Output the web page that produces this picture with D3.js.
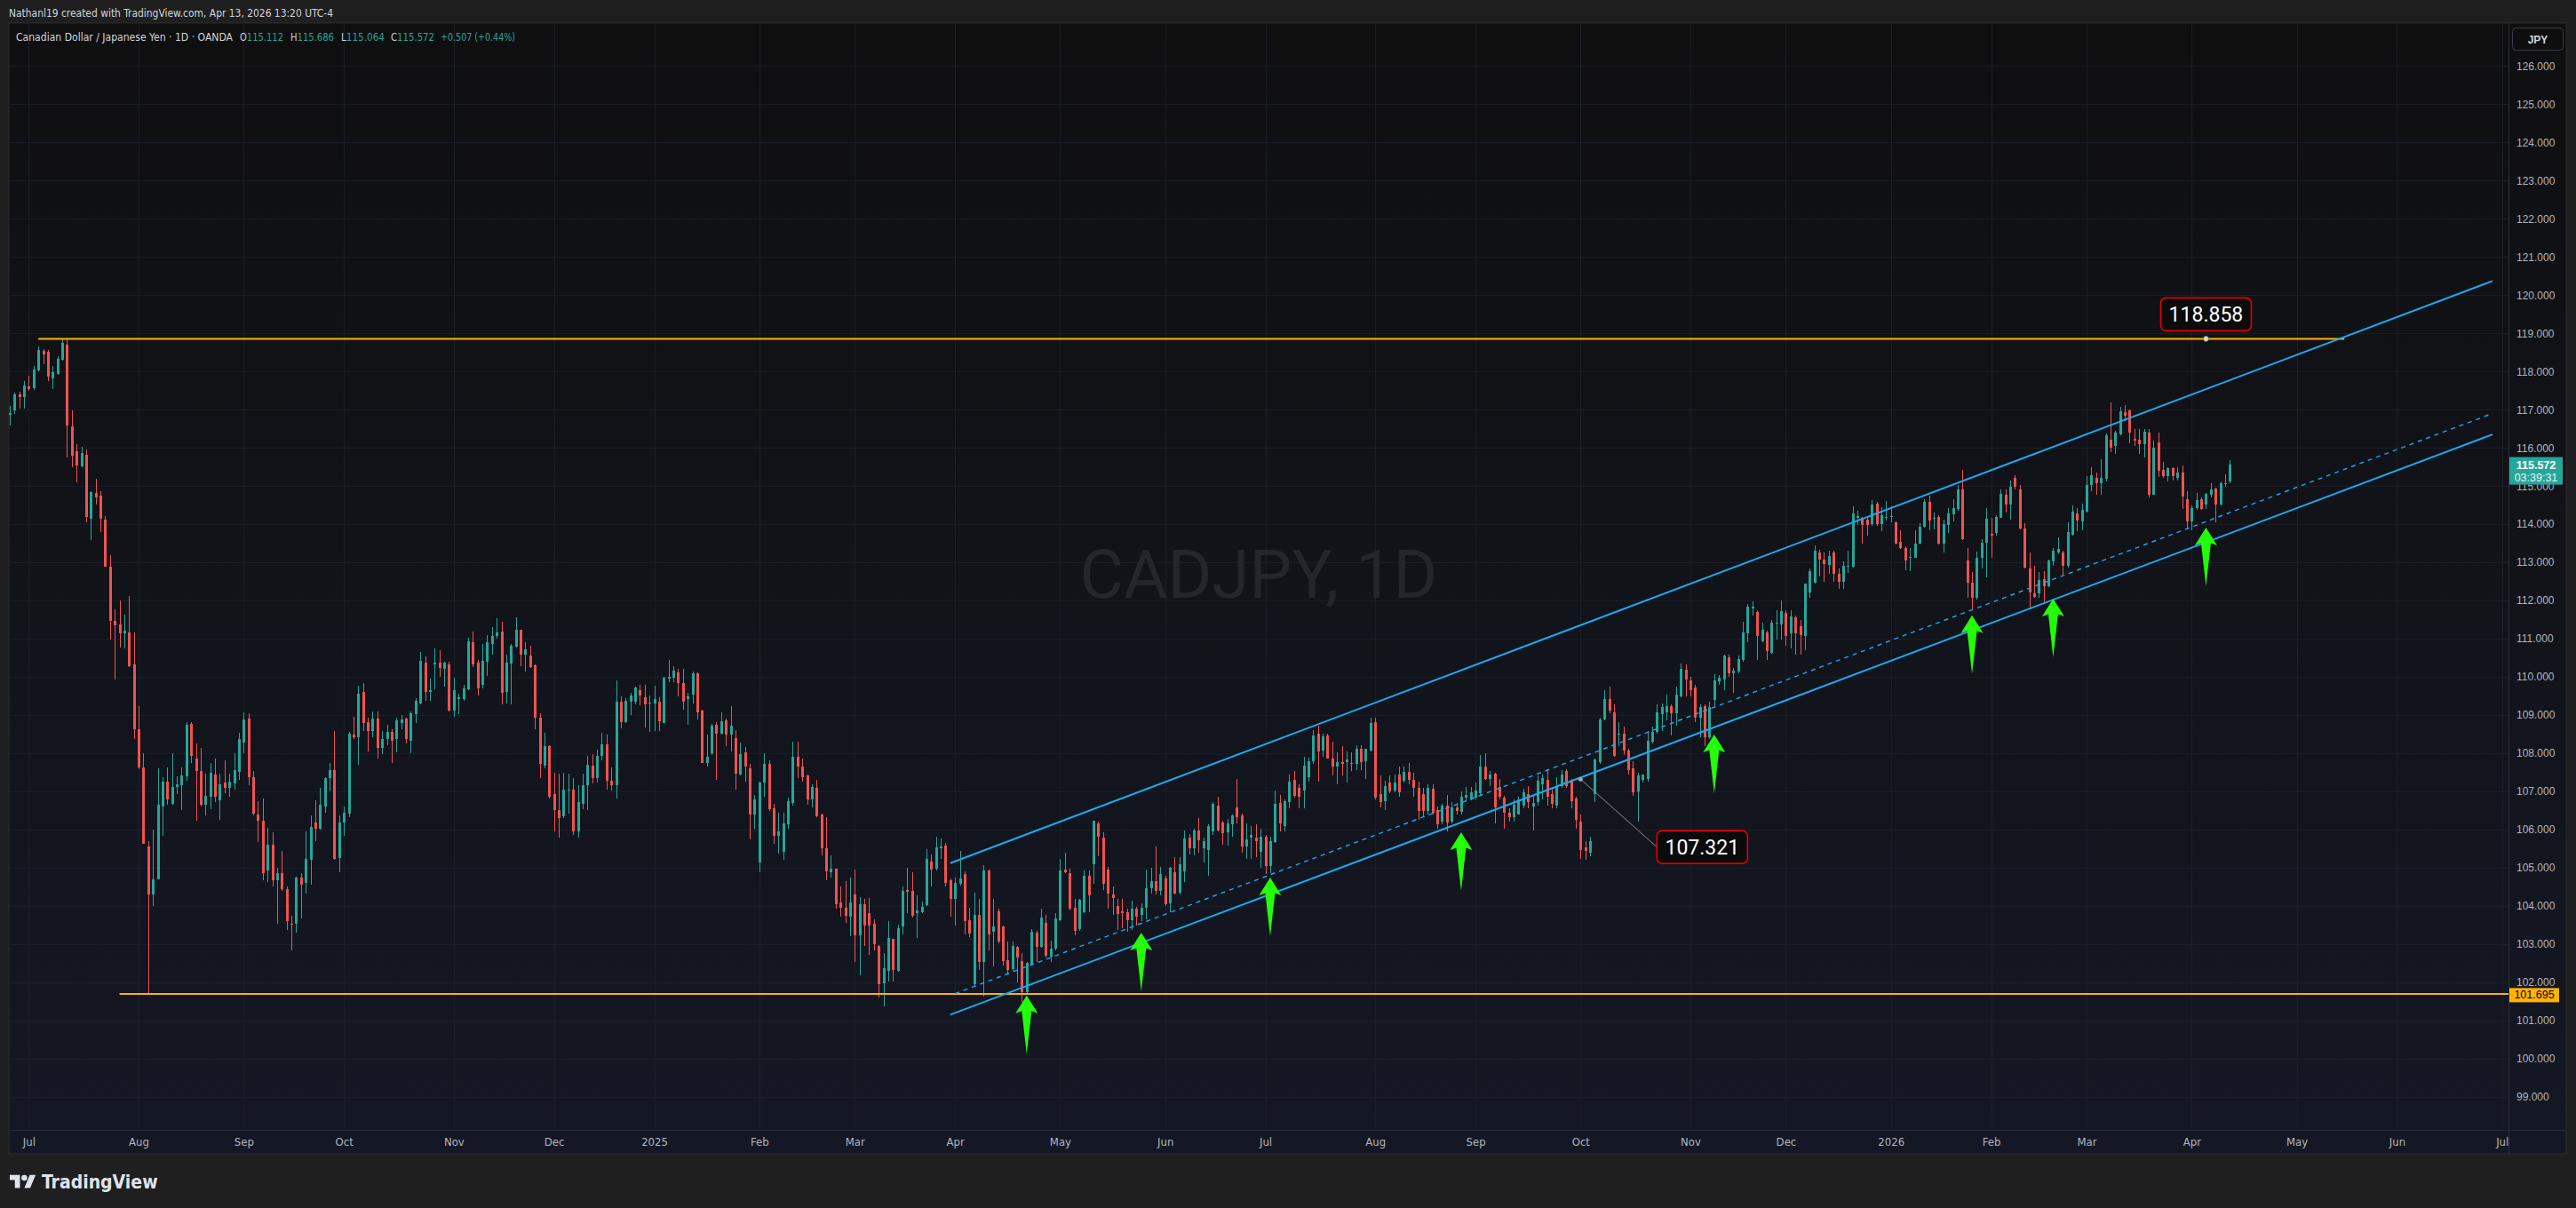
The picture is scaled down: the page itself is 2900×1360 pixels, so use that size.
<!DOCTYPE html>
<html><head><meta charset="utf-8">
<script src="https://cdn.jsdelivr.net/npm/d3@7"></script>
<style>
html,body{margin:0;padding:0;background:#1f1f1f;}
svg{display:block;}
</style></head>
<body>
<svg id="chart" width="2900" height="1360"></svg>
<script>
// ---------------- DATA ----------------
const firstDay = "2024-06-25";
const lastAxisDay = "2026-07-10";
const holidays = ["2024-12-25","2025-01-01","2025-12-25","2026-01-01"];

const open = [
116.87,116.98,117.40,117.33,117.61,117.56,118.03,118.55,118.52,117.83,
117.93,118.32,118.71,116.57,115.91,115.51,115.81,114.14,114.82,114.75,
114.13,112.89,111.46,111.37,111.13,111.16,110.33,108.63,107.63,105.56,
104.29,104.69,106.60,107.26,106.68,107.12,107.15,107.39,108.77,107.86,
107.54,106.64,106.87,107.45,106.76,107.23,107.09,107.20,107.52,108.29,
108.90,107.38,106.39,106.23,104.93,105.61,104.67,104.86,104.43,103.53,
103.52,104.75,104.59,105.20,106.18,106.01,106.61,107.34,107.55,105.26,
106.18,106.42,108.48,108.41,109.60,108.81,108.59,108.90,108.13,108.36,
108.56,108.36,108.79,108.90,108.33,109.03,109.31,110.37,109.60,110.32,
110.37,110.21,110.33,109.12,109.43,109.43,109.67,110.91,110.37,109.80,
110.39,110.87,111.07,111.19,109.60,110.36,110.80,111.23,110.59,110.56,
110.30,108.93,107.68,108.18,106.94,106.52,106.34,107.02,107.05,105.95,
106.68,107.15,107.67,107.34,107.92,108.23,107.27,107.16,109.36,108.82,
109.36,109.36,109.66,109.46,109.31,109.31,
109.36,108.80,109.95,109.98,110.12,109.83,109.43,109.54,110.09,109.12,
107.74,107.99,108.74,108.51,108.87,108.48,108.39,107.45,108.03,107.60,
106.40,105.14,107.23,107.72,106.56,105.83,105.41,106.13,106.70,107.90,
107.66,107.42,106.79,107.08,106.40,105.52,104.89,104.97,104.09,103.96,
103.72,104.31,103.22,104.04,103.80,103.52,102.95,101.98,102.29,103.13,
102.29,103.47,104.42,104.40,103.80,103.84,104.01,105.17,104.97,105.51,
105.59,104.68,104.19,104.57,104.83,103.62,101.94,103.76,102.52,104.93,
103.31,103.86,103.45,102.58,102.35,102.93,102.55,101.73,102.46,103.30,
102.93,103.55,102.68,102.87,103.62,104.94,104.85,103.96,103.38,103.84,
104.79,105.10,106.17,105.78,104.94,104.29,103.99,103.85,103.83,103.62,
103.93,103.76,103.96,104.47,104.65,104.40,104.71,104.07,104.89,104.34,
104.91,105.79,105.51,105.97,105.51,105.47,105.94,106.63,106.18,105.92,
106.13,106.59,106.36,105.56,105.78,105.79,105.41,105.82,
105.04,105.68,106.70,106.09,106.73,107.29,107.10,107.02,107.37,107.80,
108.50,108.07,108.46,107.87,107.66,107.76,107.76,107.72,107.72,108.11,
107.80,108.07,108.81,106.94,106.75,107.22,107.02,107.43,107.27,107.50,
107.29,107.10,106.94,106.48,107.06,106.52,106.21,106.62,106.21,106.59,
106.46,106.83,106.79,106.83,106.95,107.64,107.33,107.47,107.12,106.83,
106.44,106.32,106.40,106.63,106.94,106.60,106.71,107.18,107.29,106.94,
106.63,107.14,107.53,107.27,106.81,106.21,105.53,105.39,106.94,107.76,
108.88,109.43,109.08,108.48,108.50,108.07,107.60,107.00,107.29,107.33,
108.30,108.56,109.02,109.08,109.23,109.04,109.50,110.19,109.91,109.72,
108.92,109.23,108.42,109.39,109.88,109.93,110.51,110.09,110.13,110.44,
111.15,111.79,
111.71,110.92,111.17,110.63,111.40,111.37,111.68,111.13,111.56,111.33,
111.07,112.20,112.47,113.27,113.07,112.93,113.27,112.70,112.49,112.90,
112.88,114.16,114.16,114.12,114.00,114.53,114.00,114.16,114.19,114.04,
113.54,113.38,113.11,113.13,113.50,113.93,114.59,114.14,114.20,113.48,
113.97,114.25,114.39,114.90,113.06,112.47,112.08,113.11,113.52,113.75,
113.77,114.17,114.78,114.51,115.21,114.92,113.89,112.84,112.18,112.18,
112.57,112.37,113.02,113.27,113.27,112.90,113.73,114.28,114.08,114.33,
115.03,115.21,115.07,115.18,116.21,116.04,116.35,116.94,116.99,116.24,
116.21,116.10,116.41,114.78,116.14,115.42,115.26,115.48,115.21,115.36,
114.66,114.08,114.43,114.66,114.51,114.78,114.93,114.51,115.05,115.112];

const high = [
117.10,117.44,117.47,117.74,117.90,118.14,118.66,118.59,118.57,118.15,
118.41,118.86,118.84,116.98,116.09,116.02,115.95,114.87,115.19,114.87,
114.22,113.19,111.78,112.01,111.62,112.12,111.16,109.24,108.00,105.70,
106.00,107.61,107.37,107.63,108.00,107.40,107.62,108.82,108.81,108.25,
108.15,107.46,107.75,107.87,107.46,107.81,107.46,108.00,108.53,109.08,
109.04,107.54,106.74,106.82,106.05,105.92,105.00,105.43,104.51,103.73,
104.77,104.85,105.95,106.36,106.76,107.08,107.38,107.75,108.58,106.36,
106.61,108.56,108.96,109.77,109.84,108.93,109.10,109.10,108.58,108.75,
108.63,108.92,108.99,108.94,109.10,109.45,110.65,110.53,109.95,110.75,
110.70,110.40,110.40,109.98,109.56,109.80,111.02,111.18,110.44,110.86,
111.09,111.30,111.54,111.45,110.58,110.86,111.57,111.24,110.90,110.81,
110.32,109.04,108.53,108.21,107.48,107.46,107.48,107.46,107.34,107.17,
107.46,107.92,107.98,108.09,108.53,108.48,107.63,109.91,109.48,109.45,
109.59,109.75,109.78,109.80,109.51,109.77,
109.46,110.01,110.45,110.28,110.20,110.20,109.58,110.14,110.12,109.13,
108.49,108.77,108.81,109.08,108.90,109.23,108.61,108.28,108.17,107.72,
106.90,107.25,107.99,107.81,106.67,106.44,106.44,106.83,108.30,108.30,
107.86,107.45,107.19,107.31,106.42,106.32,105.32,104.98,104.52,104.65,
104.73,104.94,104.23,104.19,104.20,103.65,102.97,102.76,103.61,103.14,
103.51,104.50,105.00,104.89,104.27,104.11,105.49,105.35,105.80,105.76,
105.64,104.71,104.73,105.43,104.90,103.96,104.34,104.19,105.07,104.94,
104.19,103.93,103.49,103.07,103.07,102.96,102.77,102.54,103.39,103.34,
103.92,103.76,103.10,103.80,105.24,105.39,104.97,104.19,104.19,104.93,
104.93,106.23,106.21,105.92,105.02,104.50,104.19,104.19,103.93,104.13,
103.97,104.07,104.94,105.00,105.55,105.02,104.79,105.02,105.28,105.28,
105.97,105.87,106.01,106.31,105.79,106.13,106.71,106.87,106.23,106.28,
106.40,107.32,106.42,106.17,106.10,106.13,106.01,105.86,
105.82,107.02,106.91,106.79,107.43,107.53,107.19,107.91,107.89,108.61,
108.71,108.50,108.50,108.30,108.03,108.19,108.05,108.03,108.22,108.22,
108.12,108.92,108.92,107.41,107.27,107.41,107.45,107.66,107.64,107.74,
107.49,107.25,107.10,107.18,107.18,106.60,106.67,106.91,106.71,106.70,
107.01,107.12,107.12,107.22,107.95,107.99,107.53,107.49,107.33,106.88,
106.56,106.79,106.87,107.06,107.14,106.88,107.41,107.45,107.55,107.10,
107.37,107.56,107.58,107.33,106.87,106.40,105.70,105.82,107.87,108.92,
109.66,109.74,109.27,108.81,108.69,108.11,107.80,107.49,107.45,108.57,
108.69,109.27,109.31,109.54,109.27,109.74,110.36,110.32,109.99,109.80,
109.27,109.27,109.35,110.06,110.05,110.59,110.59,110.24,110.55,111.44,
111.91,111.98,
111.75,111.43,111.21,111.48,111.75,112.00,111.75,111.75,111.60,111.48,
112.45,112.84,113.45,113.32,113.27,113.31,113.31,112.84,113.03,113.31,
114.47,114.35,114.20,114.17,114.62,114.59,114.45,114.61,114.48,114.08,
113.85,113.42,113.38,113.85,114.02,114.66,114.74,114.31,114.24,114.12,
114.43,114.66,115.03,115.42,113.37,112.75,113.29,113.60,114.43,114.16,
114.24,114.90,114.90,115.15,115.28,115.03,114.02,113.27,112.92,112.75,
112.78,113.07,113.38,113.65,113.31,114.04,114.49,114.43,114.55,115.26,
115.49,115.36,115.70,116.37,117.18,116.45,117.07,117.11,117.01,116.49,
116.49,116.49,116.49,116.19,116.39,115.63,115.49,115.49,115.49,115.54,
114.87,114.49,114.82,114.70,114.82,115.07,114.95,115.11,115.31,115.686];

const low = [
116.58,116.89,117.03,117.03,117.49,117.52,118.00,118.19,117.76,117.53,
117.91,118.28,115.76,115.50,115.09,115.49,114.04,113.59,114.52,113.79,
112.88,110.97,109.92,110.77,110.74,110.25,108.36,107.57,105.62,101.70,
103.99,104.69,105.83,106.66,106.66,106.94,106.50,107.27,107.75,106.23,
106.61,106.37,106.54,106.73,106.25,106.96,106.87,107.05,107.30,107.99,
107.17,106.38,105.68,104.68,104.62,104.51,103.52,104.39,103.37,102.83,
103.29,103.67,104.33,104.56,105.70,106.00,106.45,107.00,105.20,104.88,
105.84,106.32,108.38,107.69,108.58,108.04,108.41,107.85,107.98,108.20,
107.75,108.02,108.63,108.25,108.01,108.80,109.29,109.37,109.37,109.68,
110.00,109.75,109.10,108.96,109.02,109.37,109.66,110.26,109.52,109.70,
110.02,110.59,111.01,109.27,109.31,109.27,110.76,110.27,110.14,110.24,
108.62,107.34,107.60,106.82,105.95,105.78,106.29,106.42,105.86,105.78,
106.53,106.50,107.20,107.23,107.81,107.04,107.02,106.82,108.65,108.79,
108.99,109.27,109.25,108.67,108.56,108.59,
108.59,108.79,109.85,109.85,109.50,109.14,108.75,109.31,108.88,107.74,
107.64,107.95,107.31,108.49,108.18,108.05,107.04,107.41,107.25,105.74,
106.01,104.89,106.85,106.48,105.62,105.38,105.20,106.01,106.63,107.35,
107.25,106.65,106.59,106.32,105.32,104.67,104.73,103.93,103.72,103.55,
103.20,102.54,102.17,102.96,102.72,102.83,101.61,101.36,102.02,102.02,
102.28,103.26,103.80,103.70,103.16,103.80,104.00,104.52,104.93,105.24,
104.50,103.72,103.49,104.54,103.26,103.18,101.88,102.33,101.63,102.83,
102.41,103.03,102.44,102.21,102.29,101.99,101.48,101.71,102.44,102.52,
102.91,102.64,102.52,102.83,103.61,104.85,103.88,103.24,103.34,103.80,
103.84,104.58,105.31,104.42,103.93,103.76,103.36,103.41,103.31,103.37,
103.49,103.61,103.65,104.32,104.31,104.27,103.99,103.84,104.31,104.29,
104.62,105.35,105.32,105.39,105.14,104.79,105.86,105.95,105.61,105.59,
105.82,106.17,105.39,105.24,105.24,105.28,105.00,104.83,
104.85,105.66,105.94,105.94,106.56,106.83,106.56,106.56,107.25,107.72,
107.25,107.91,107.87,107.41,107.18,107.41,107.22,107.53,107.56,107.56,
107.33,108.05,106.79,106.57,106.52,106.95,106.98,106.87,107.22,107.18,
106.87,106.25,106.32,106.40,106.40,106.01,106.13,105.94,106.17,106.40,
106.40,106.71,106.77,106.79,106.91,107.29,107.14,106.17,106.79,106.01,
106.21,106.21,106.39,106.56,106.56,105.98,106.63,106.79,106.63,106.56,
106.56,107.10,107.10,106.56,106.01,105.24,105.20,105.31,106.73,107.72,
108.85,109.04,107.91,108.18,107.95,107.45,106.88,106.21,107.22,107.25,
108.26,108.50,108.57,108.85,108.46,108.73,109.46,109.49,109.49,108.81,
108.42,108.19,108.36,109.21,109.78,109.66,110.01,109.58,110.09,110.40,
110.90,111.60,
110.44,110.90,110.44,110.61,110.98,110.98,110.82,110.75,110.59,110.59,
110.71,112.06,112.45,112.62,112.49,112.69,112.49,112.30,112.30,112.72,
112.86,113.97,113.48,113.71,113.96,113.96,113.81,114.10,114.04,113.46,
113.34,112.80,112.76,113.11,113.46,113.91,113.85,113.86,113.46,113.27,
113.77,114.08,114.35,113.58,112.06,111.75,112.03,112.84,112.61,113.11,
113.69,114.16,114.31,114.12,114.92,113.86,112.84,111.77,112.06,112.06,
111.91,112.36,112.92,113.21,112.67,112.86,113.71,113.81,113.83,114.31,
114.86,114.78,114.78,115.13,115.88,115.83,116.32,116.70,116.11,116.06,
115.83,115.75,114.70,114.76,115.23,115.21,115.13,115.15,115.15,114.39,
113.86,113.85,114.38,114.38,114.41,114.70,114.04,114.49,114.97,115.064];

const close = [
116.91,117.40,117.34,117.63,117.54,118.06,118.57,118.45,117.86,117.98,
118.34,118.74,116.58,115.80,115.54,115.86,114.18,114.84,114.71,114.15,
112.89,111.46,111.34,111.13,111.21,110.28,108.62,107.63,105.62,104.29,
104.70,106.64,107.26,106.80,107.12,107.18,107.42,108.75,107.92,107.54,
106.64,106.88,107.49,106.87,107.19,107.09,107.25,107.55,108.36,108.88,
107.38,106.42,106.24,104.85,105.61,104.67,104.86,104.43,103.61,103.50,
104.74,104.56,105.22,106.06,106.02,106.65,107.35,107.55,105.24,106.18,
106.43,108.50,108.41,109.56,108.78,108.59,108.90,108.15,108.37,108.56,
108.33,108.85,108.89,108.36,109.05,109.38,110.42,109.60,109.66,110.37,
110.24,110.37,109.12,109.66,109.46,109.70,110.94,110.33,109.70,110.43,
110.91,111.08,111.16,109.58,110.37,110.81,111.23,110.59,110.73,110.25,
108.94,107.71,108.18,106.86,106.50,106.30,107.05,107.05,105.95,106.71,
107.17,107.70,107.34,107.94,108.23,107.27,107.16,109.36,108.82,109.38,
109.52,109.73,109.52,109.29,109.33,109.41,
108.84,109.98,109.99,110.16,109.83,109.36,109.50,110.09,109.08,107.74,
107.90,108.73,108.51,108.84,108.49,108.73,107.46,107.97,107.64,106.40,
106.80,107.23,107.73,106.53,105.83,105.94,106.17,106.75,107.90,107.64,
107.37,106.79,107.11,106.34,105.51,104.90,104.97,104.05,103.96,103.75,
104.09,103.22,104.04,103.49,103.49,102.99,101.94,102.37,103.16,102.33,
103.41,104.40,104.38,103.75,103.88,103.97,105.24,104.94,105.53,105.56,
104.59,104.19,104.60,104.71,103.59,103.27,103.76,102.52,104.93,103.26,
103.47,103.07,102.56,102.33,102.95,102.64,101.75,102.50,103.31,102.93,
103.69,102.69,102.89,103.67,104.93,104.89,103.92,103.34,104.15,104.79,
104.27,106.22,105.80,104.58,104.32,104.21,103.78,103.80,103.62,103.93,
103.72,103.96,104.47,104.65,104.40,104.83,104.04,105.00,104.32,105.10,
105.76,105.51,105.97,105.72,105.70,106.09,106.67,105.97,105.90,106.15,
106.36,106.32,105.56,105.74,105.86,105.69,105.82,105.04,
105.70,106.67,106.16,106.75,107.25,106.88,106.87,107.68,107.80,108.46,
108.05,108.43,107.87,107.66,107.76,107.72,107.84,107.74,108.12,107.76,
108.11,108.79,106.83,106.73,107.14,107.01,107.23,106.98,107.50,107.29,
107.10,106.48,106.48,107.10,106.44,106.13,106.63,106.18,106.57,106.49,
106.87,106.91,106.98,107.02,107.64,107.33,107.45,106.57,106.87,106.44,
106.32,106.65,106.79,106.98,106.73,106.70,107.27,107.35,106.87,106.67,
107.14,107.43,107.14,106.75,106.25,105.47,105.43,105.70,107.84,108.88,
109.43,109.12,107.94,108.51,108.07,107.56,106.98,107.41,107.43,108.33,
108.56,109.08,109.21,109.23,109.04,109.54,110.20,109.93,109.66,108.92,
109.21,108.42,109.21,109.91,109.97,110.55,110.09,110.16,110.47,111.17,
111.85,111.83,
111.06,111.23,110.67,111.41,111.42,111.72,111.06,111.58,111.13,111.09,
112.44,112.78,113.31,113.07,112.96,113.17,112.70,112.49,112.92,112.92,
114.28,114.21,113.99,113.99,114.51,114.00,114.24,114.18,114.21,113.50,
113.38,113.06,113.15,113.50,113.94,114.59,114.10,114.17,113.50,114.00,
114.28,114.43,114.90,113.60,112.47,112.08,113.11,113.52,114.14,113.71,
114.20,114.79,114.51,114.97,114.97,113.89,112.86,112.20,112.10,112.53,
112.37,113.06,113.31,113.34,112.90,113.79,114.33,114.10,114.38,115.03,
115.28,115.07,115.21,116.33,116.01,116.41,116.95,116.84,116.41,116.19,
116.10,116.42,114.78,116.01,115.40,115.26,115.46,115.26,115.36,114.72,
114.08,114.43,114.64,114.41,114.79,114.92,114.51,115.07,115.065,115.572];

const priceTicks = [99,100,101,102,103,104,105,106,107,108,109,110,111,112,113,114,115,116,117,118,119,120,121,122,123,124,125,126];
const monthTickDates = ["2024-07-01","2024-08-01","2024-09-02","2024-10-01","2024-11-01","2024-12-02","2025-01-02","2025-02-03","2025-03-03","2025-04-01","2025-05-01","2025-06-02","2025-07-01","2025-08-01","2025-09-01","2025-10-01","2025-11-03","2025-12-01","2026-01-02","2026-02-02","2026-03-02","2026-04-01","2026-05-01","2026-06-01","2026-07-01"];
const monthTickLabels = ["Jul","Aug","Sep","Oct","Nov","Dec","2025","Feb","Mar","Apr","May","Jun","Jul","Aug","Sep","Oct","Nov","Dec","2026","Feb","Mar","Apr","May","Jun","Jul"];

const resistanceLevel = 118.858;
const resistanceSpan = ["2024-07-03","2026-05-15"];
const resistanceLabelDate = "2026-04-06";
const supportLevel = 101.695;
const supportStart = "2024-07-26";
const channelUpper = [["2025-03-31",105.12],["2026-06-29",120.37]];
const channelLower = [["2025-03-31",101.15],["2026-06-29",116.35]];
const channelInner = [["2025-04-01",101.70],["2026-06-29",116.90]];
const arrowDates = ["2025-04-22","2025-05-26","2025-07-02","2025-08-27","2025-11-10","2026-01-27","2026-02-19","2026-04-06"];
const arrowPrices = [101.65,103.30,104.74,105.93,108.49,111.61,112.05,113.91];
const calloutDate = "2025-10-01";
const calloutPrice = 107.321;
const countdown = "03:39:31";

// ---------------- LAYOUT ----------------
const W = 2900, H = 1360;
const plot = {x0: 10, x1: 2824, y0: 27, y1: 1272};
const NARROW = "'Liberation Sans Narrow','DejaVu Sans Condensed','Roboto Condensed',sans-serif";
const SANS = "'Liberation Sans',Arial,sans-serif";
const UP = "#26a69a", DOWN = "#ef5350";
const BLUE = "#1ea8f0", YELLOW = "#ffb300", LIME = "#22ff08";

// trading-day calendar (weekdays without market holidays)
const days = [];
{
  let d = new Date(firstDay + "T00:00:00Z");
  const end = new Date(lastAxisDay + "T00:00:00Z");
  while (d <= end) {
    const s = d.toISOString().slice(0, 10);
    const w = d.getUTCDay();
    if (w !== 0 && w !== 6 && !holidays.includes(s)) days.push(s);
    d = new Date(d.getTime() + 86400000);
  }
}
const di = new Map(days.map((s, i) => [s, i]));

const x = d3.scaleLinear().domain([-0.17, 523.36]).range([plot.x0, plot.x1]);
const y = d3.scaleLinear().domain([98.132, 127.105]).range([plot.y1, plot.y0]);
const xd = s => x(di.get(s));

const svg = d3.select("#chart");
const defs = svg.append("defs");
const grad = defs.append("linearGradient").attr("id", "bg").attr("x1", 0).attr("y1", 0).attr("x2", 0).attr("y2", 1);
grad.append("stop").attr("offset", "0%").attr("stop-color", "#0f0f10");
grad.append("stop").attr("offset", "100%").attr("stop-color", "#141824");
defs.append("clipPath").attr("id", "plotClip").append("rect")
  .attr("x", plot.x0).attr("y", plot.y0).attr("width", plot.x1 - plot.x0).attr("height", plot.y1 - plot.y0);

svg.append("rect").attr("width", W).attr("height", H).attr("fill", "#1f1f1f");
svg.append("rect").attr("x", 10).attr("y", 26).attr("width", 2879).attr("height", 1273)
  .attr("fill", "url(#bg)").attr("stroke", "#2c2c2e").attr("stroke-width", 1);

// grid
const grid = svg.append("g").attr("clip-path", "url(#plotClip)");
grid.selectAll("line.h").data(priceTicks).join("line")
  .attr("x1", plot.x0).attr("x2", plot.x1)
  .attr("y1", d => Math.round(y(d)) + 0.5).attr("y2", d => Math.round(y(d)) + 0.5)
  .attr("stroke", "#1b1e26").attr("stroke-width", 1);
grid.selectAll("line.v").data(monthTickDates).join("line")
  .attr("x1", d => Math.round(xd(d)) + 0.5).attr("x2", d => Math.round(xd(d)) + 0.5)
  .attr("y1", plot.y0).attr("y2", plot.y1)
  .attr("stroke", "#1b1e26").attr("stroke-width", 1);

// watermark
svg.append("text").attr("x", 1417).attr("y", 647).attr("text-anchor", "middle")
  .attr("dominant-baseline", "central").attr("font-family", "Roboto,sans-serif")
  .attr("font-size", 76).attr("fill", "#24262b").text("CADJPY, 1D");

// candles
const candles = close.map((c, i) => ({i, o: open[i], h: high[i], l: low[i], c}));
const cg = svg.append("g").attr("clip-path", "url(#plotClip)").attr("shape-rendering", "crispEdges");
cg.selectAll("rect.wick").data(candles).join("rect")
  .attr("x", d => Math.round(x(d.i)))
  .attr("y", d => y(d.h)).attr("width", 1)
  .attr("height", d => Math.max(1, y(d.l) - y(d.h)))
  .attr("fill", d => d.c >= d.o ? UP : DOWN);
cg.selectAll("rect.body").data(candles).join("rect")
  .attr("x", d => Math.round(x(d.i)) - 1)
  .attr("y", d => y(Math.max(d.o, d.c))).attr("width", 3)
  .attr("height", d => Math.max(1, Math.abs(y(d.o) - y(d.c))))
  .attr("fill", d => d.c >= d.o ? UP : DOWN);

// drawings
const dg = svg.append("g").attr("clip-path", "url(#plotClip)");
const line = d3.line().x(d => xd(d[0])).y(d => y(d[1]));
dg.append("line").attr("x1", xd(resistanceSpan[0])).attr("x2", xd(resistanceSpan[1]))
  .attr("y1", y(resistanceLevel)).attr("y2", y(resistanceLevel))
  .attr("stroke", YELLOW).attr("stroke-width", 2);
dg.append("line").attr("x1", xd(supportStart)).attr("x2", plot.x1)
  .attr("y1", y(supportLevel)).attr("y2", y(supportLevel))
  .attr("stroke", YELLOW).attr("stroke-width", 2);
dg.append("path").attr("d", line(channelUpper)).attr("stroke", BLUE).attr("stroke-width", 2).attr("fill", "none");
dg.append("path").attr("d", line(channelLower)).attr("stroke", BLUE).attr("stroke-width", 2).attr("fill", "none");
dg.append("path").attr("d", line(channelInner)).attr("stroke", BLUE).attr("stroke-width", 1.4)
  .attr("stroke-dasharray", "5,5").attr("fill", "none");

// arrows
arrowDates.forEach((d, k) => {
  const cx = xd(d), ty = y(arrowPrices[k]);
  const p = `M${cx},${ty} L${cx + 12.5},${ty + 20} L${cx + 5.5},${ty + 17.5} L${cx},${ty + 66} L${cx - 5.5},${ty + 17.5} L${cx - 12.5},${ty + 20} Z`;
  dg.append("path").attr("d", p).attr("fill", LIME);
});

// label boxes
function labelBox(cx, cy, txt) {
  const g = svg.append("g");
  g.append("rect").attr("x", cx - 51).attr("y", cy - 18.5).attr("width", 102).attr("height", 37)
    .attr("rx", 6).attr("fill", "#0b0b0c").attr("stroke", "#e00000").attr("stroke-width", 1.6);
  g.append("text").attr("x", cx).attr("y", cy + 1).attr("text-anchor", "middle")
    .attr("dominant-baseline", "central").attr("font-family", "Roboto,sans-serif")
    .attr("font-size", 23).attr("fill", "#ffffff").text(txt);
}
// resistance price label
{
  const ax = xd(resistanceLabelDate), ay = y(resistanceLevel);
  labelBox(ax, ay - 27.5, resistanceLevel.toFixed(3));
  svg.append("circle").attr("cx", ax).attr("cy", ay).attr("r", 3)
    .attr("fill", "#f3dfb0").attr("stroke", "#6b6b6b").attr("stroke-width", 1);
}
// callout
{
  const ax = xd(calloutDate), ay = y(calloutPrice);
  const bx = ax + 137, by = ay + 76.5;
  svg.append("line").attr("x1", ax).attr("y1", ay).attr("x2", bx - 51).attr("y2", by)
    .attr("stroke", "#8a8d96").attr("stroke-width", 1);
  svg.append("circle").attr("cx", ax).attr("cy", ay).attr("r", 2.5).attr("fill", "#a0a3ab");
  labelBox(bx, by, calloutPrice.toFixed(3));
}

// separators
svg.append("line").attr("x1", plot.x1 + 0.5).attr("x2", plot.x1 + 0.5).attr("y1", 26).attr("y2", 1299)
  .attr("stroke", "#2a2e39");
svg.append("line").attr("x1", 10).attr("x2", 2889).attr("y1", plot.y1 + 0.5).attr("y2", plot.y1 + 0.5)
  .attr("stroke", "#2a2e39");

// price axis
const ya = svg.append("g").attr("transform", `translate(${plot.x1},0)`)
  .call(d3.axisRight(y).tickValues(priceTicks).tickFormat(d3.format(".3f")).tickSize(0).tickPadding(9));
ya.select(".domain").remove();
ya.selectAll("text").attr("font-family", SANS).attr("font-size", 12).attr("fill", "#b2b5be");

// time axis
const xa = svg.append("g").attr("transform", `translate(0,${plot.y1})`)
  .call(d3.axisBottom(x).tickValues(monthTickDates.map(s => di.get(s)))
    .tickFormat((d, i) => monthTickLabels[i]).tickSize(0).tickPadding(9));
xa.select(".domain").remove();
xa.selectAll("text").attr("font-family", NARROW).attr("font-size", 13).attr("fill", "#b2b5be");

// support price tag
{
  const yy = y(supportLevel);
  svg.append("rect").attr("x", plot.x1 + 1).attr("y", yy - 6.5).attr("width", 56).attr("height", 16).attr("fill", YELLOW);
  svg.append("text").attr("x", plot.x1 + 29).attr("y", yy + 1.5).attr("text-anchor", "middle")
    .attr("dominant-baseline", "central").attr("font-family", SANS).attr("font-size", 12.5)
    .attr("fill", "#000").text(supportLevel.toFixed(3));
}
// last price tag
{
  const last = close[close.length - 1];
  const yy = y(last);
  svg.append("rect").attr("x", plot.x1 + 1).attr("y", yy - 8).attr("width", 60).attr("height", 31).attr("fill", UP);
  svg.append("text").attr("x", plot.x1 + 31).attr("y", yy + 1).attr("text-anchor", "middle")
    .attr("dominant-baseline", "central").attr("font-family", SANS).attr("font-size", 12.5)
    .attr("font-weight", "bold").attr("fill", "#fff").text(last.toFixed(3));
  svg.append("text").attr("x", plot.x1 + 31).attr("y", yy + 15).attr("text-anchor", "middle")
    .attr("dominant-baseline", "central").attr("font-family", SANS).attr("font-size", 12.5)
    .attr("fill", "#e6f4f2").text(countdown);
}
// currency button
svg.append("rect").attr("x", 2828.5).attr("y", 31.5).attr("width", 57).attr("height", 25).attr("rx", 4)
  .attr("fill", "#0e0e0f").attr("stroke", "#3a3d45");
svg.append("text").attr("x", 2857).attr("y", 44.5).attr("text-anchor", "middle").attr("dominant-baseline", "central")
  .attr("font-family", SANS).attr("font-size", 12).attr("font-weight", "bold").attr("fill", "#d1d4dc").text("JPY");

// header (font sized so natural width ~ target width, textLength pins it exactly)
function fitText(xp, yp, w, size, fill) {
  return svg.append("text").attr("x", xp).attr("y", yp).attr("dominant-baseline", "central")
    .attr("font-family", NARROW).attr("font-size", size).attr("fill", fill)
    .attr("textLength", w).attr("lengthAdjust", "spacingAndGlyphs");
}
fitText(10, 15, 365, 11.8, "#d1d4dc").text("Nathanl19 created with TradingView.com, Apr 13, 2026 13:20 UTC-4");
{
  const n = close.length - 1;
  const chg = close[n] - close[n - 1];
  const pct = chg / close[n - 1] * 100;
  const f3 = d3.format(".3f");
  fitText(18, 42, 244, 12, "#d1d4dc").text("Canadian Dollar / Japanese Yen \u00b7 1D \u00b7 OANDA");
  const parts = [["O", open[n], 270], ["H", high[n], 327], ["L", low[n], 384], ["C", close[n], 440]];
  parts.forEach(p => {
    const t = fitText(p[2], 42, 49, 12, "#d1d4dc");
    t.append("tspan").text(p[0]);
    t.append("tspan").attr("fill", UP).text(f3(p[1]));
  });
  fitText(496, 42, 84, 12, UP)
    .text((chg >= 0 ? "+" : "") + f3(chg) + " (" + (pct >= 0 ? "+" : "") + pct.toFixed(2) + "%)");
}

// footer logo
{
  const g = svg.append("g").attr("transform", "translate(11,1319.5) scale(0.82)").attr("fill", "#e0e3eb");
  g.append("path").attr("d", "M14 22H7V11H0V4h14v18zM28 22h-8l7.5-18h8L28 22z");
  g.append("circle").attr("cx", 20).attr("cy", 8).attr("r", 4);
  svg.append("text").attr("x", 47).attr("y", 1330.5).attr("dominant-baseline", "central")
    .attr("font-family", NARROW).attr("font-size", 21).attr("font-weight", "bold")
    .attr("fill", "#e0e3eb").text("TradingView");
}
</script>
</body></html>
